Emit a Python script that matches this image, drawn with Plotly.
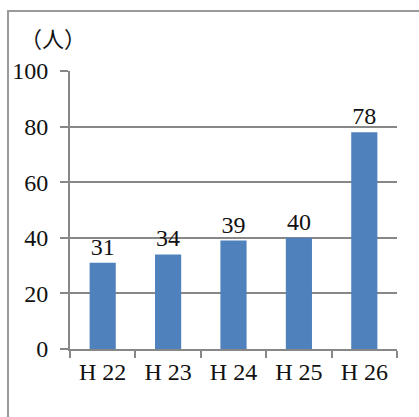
import plotly.graph_objects as go

categories = ["H 22", "H 23", "H 24", "H 25", "H 26"]
values = [31, 34, 39, 40, 78]
y_ticks = [0, 20, 40, 60, 80, 100]
unit_label = "（人）"

W, H = 419, 417
L, R, T, B = 70, 22, 71, 68
pw = W - L - R
ph = H - T - B

font_family = "'Liberation Serif', 'Times New Roman', serif"
grid_col = "#878787"

fig = go.Figure()
fig.add_trace(go.Bar(
    x=categories, y=values,
    marker=dict(color="#4F81BD", line=dict(width=0)),
    width=0.4,
    text=[str(v) for v in values],
    textposition="outside",
    textfont=dict(family=font_family, size=24, color="#111111"),
    cliponaxis=False,
))

frame_x0 = (8 - L) / pw
frame_y1 = (H - B - 11) / ph
fig.add_shape(type="rect", xref="paper", yref="paper",
              x0=frame_x0, x1=1.3, y0=-0.5, y1=frame_y1,
              line=dict(color="#9a9a9a", width=2), layer="below")

fig.add_annotation(text=unit_label, xref="paper", yref="paper",
                   x=(53 - L) / pw, y=(H - B - 37) / ph,
                   showarrow=False, xanchor="center", yanchor="middle",
                   font=dict(family="Noto Sans CJK JP", size=22, color="#111111"))

fig.update_layout(
    width=W, height=H,
    margin=dict(l=L, r=R, t=T, b=B, pad=0, autoexpand=False),
    paper_bgcolor="white", plot_bgcolor="white",
    showlegend=False,
    xaxis=dict(
        automargin=False,
        showline=True, linecolor=grid_col, linewidth=2,
        ticks="outside", ticklen=7, tickwidth=2, tickcolor=grid_col,
        tickson="boundaries",
        showgrid=False,
        tickfont=dict(family=font_family, size=24, color="#111111"),
    ),
    yaxis=dict(
        automargin=False,
        range=[0, 100], tickvals=y_ticks,
        showline=True, linecolor=grid_col, linewidth=2,
        ticks="outside", ticklen=8, tickwidth=2, tickcolor=grid_col,
        showgrid=True, gridcolor=grid_col, gridwidth=2,
        zeroline=False,
        ticklabelstandoff=7,
        tickfont=dict(family=font_family, size=24, color="#111111"),
    ),
)

fig.write_html("out.html")
